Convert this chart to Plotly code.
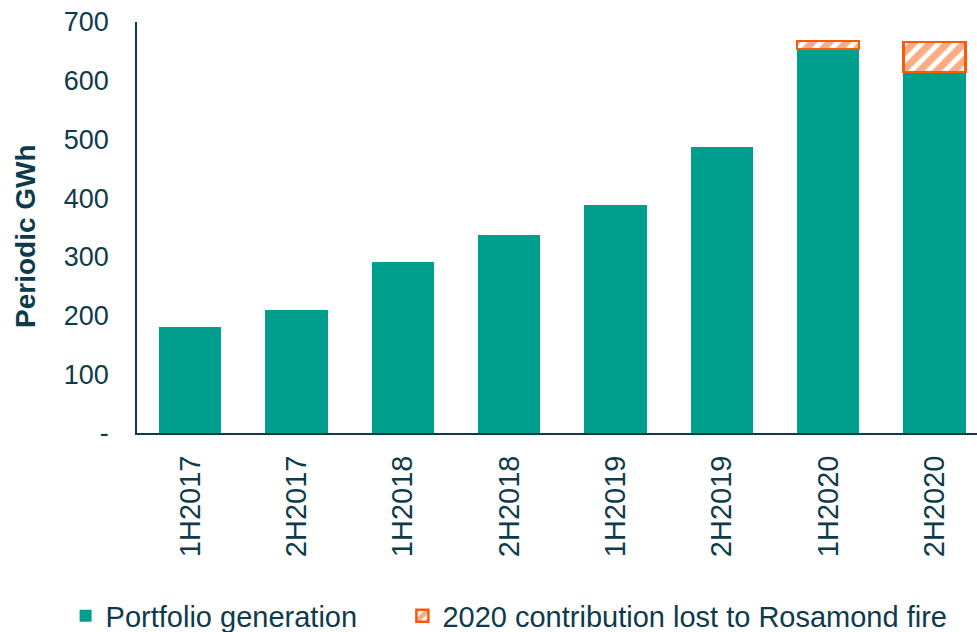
import plotly.graph_objects as go

categories = ["1H2017", "2H2017", "1H2018", "2H2018", "1H2019", "2H2019", "1H2020", "2H2020"]
portfolio = [181, 210, 291, 337, 388, 487, 654, 615]
lost = [None, None, None, None, None, None, 14, 51]
y_ticks = [0, 100, 200, 300, 400, 500, 600, 700]
y_ticktext = ["-", "100", "200", "300", "400", "500", "600", "700"]

GREEN = "#009e8c"
ORANGE = "#fa5a0a"
NAVY = "#0e3b4c"
FONT = "Liberation Sans, Arial, sans-serif"
PAD = "\u00a0" * 5

fig = go.Figure()
fig.add_trace(go.Bar(
    x=categories, y=portfolio, name="Portfolio generation" + PAD,
    marker=dict(color=GREEN, line=dict(width=0)),
))
fig.add_trace(go.Bar(
    x=categories, y=lost, name="2020 contribution lost to Rosamond fire",
    marker=dict(color="white", line=dict(color=ORANGE, width=2.5),
                pattern=dict(shape="/", fgcolor=ORANGE, bgcolor="white", size=12, solidity=0.6)),
))

fig.update_layout(
    barmode="stack",
    bargap=0.415,
    width=977, height=632,
    margin=dict(l=137, r=0, t=22, b=199, autoexpand=False),
    paper_bgcolor="white", plot_bgcolor="white",
    font=dict(family=FONT, size=26, color=NAVY),
    showlegend=True,
    legend=dict(orientation="h", traceorder="normal", x=-0.085, xanchor="left", y=-0.445, yanchor="middle",
                font=dict(size=29, color=NAVY), itemwidth=30, bgcolor="rgba(0,0,0,0)"),
    xaxis=dict(
        range=[-0.5, 7.4], showline=True, linecolor=NAVY, linewidth=2, automargin=False,
        ticks="", tickangle=-90, ticklabelstandoff=9, showgrid=False,
        tickfont=dict(size=29, color=NAVY),
    ),
    yaxis=dict(
        range=[0, 700], showline=True, linecolor=NAVY, linewidth=1.5, automargin=False,
        tickvals=y_ticks, ticktext=y_ticktext, ticks="", showgrid=False, zeroline=False,
        ticklabelstandoff=21, tickfont=dict(size=27, color=NAVY),
    ),
)
fig.add_annotation(
    text="<b>Periodic GWh</b>", textangle=-90, xref="paper", yref="paper",
    x=-0.133, y=0.48, xanchor="center", yanchor="middle", showarrow=False,
    font=dict(size=28, color=NAVY, family=FONT),
)

fig.write_html("out.html")
